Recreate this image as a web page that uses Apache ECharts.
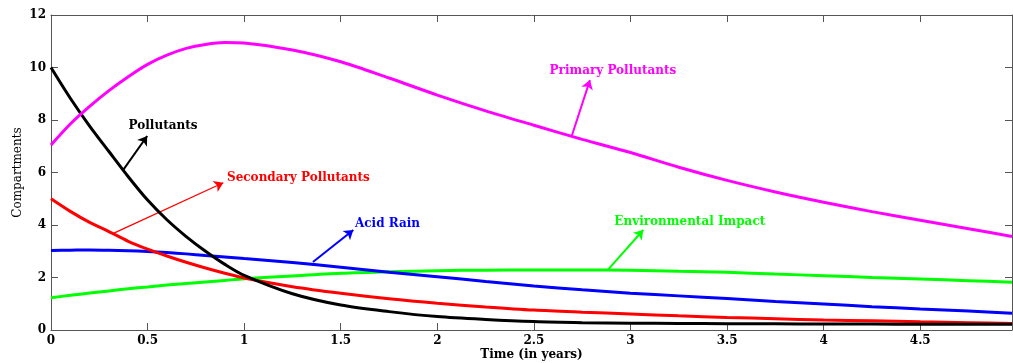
<!DOCTYPE html>
<html>
<head>
<meta charset="utf-8">
<script src="https://cdn.jsdelivr.net/npm/echarts@6/dist/echarts.min.js"></script>
<style>html,body{margin:0;padding:0;background:#fff}#c{width:1013px;height:363px}</style>
</head>
<body>
<div id="c"></div>
<script>
// Time points (years)
const time = [0,0.1,0.2,0.3,0.4,0.5,0.6,0.7,0.8,0.9,1,1.25,1.5,1.75,2,2.25,2.5,2.75,3,3.25,3.5,3.75,4,4.25,4.5,4.75,4.975];
// Series values
const primary    = [7.05,7.85,8.52,9.12,9.65,10.12,10.47,10.73,10.88,10.95,10.93,10.67,10.22,9.6,8.95,8.35,7.8,7.26,6.76,6.2,5.7,5.26,4.87,4.51,4.18,3.86,3.56];
const pollutants = [10,8.83,7.77,6.8,5.84,4.95,4.2,3.56,3.0,2.5,2.08,1.38,0.95,0.7,0.51,0.4,0.32,0.28,0.26,0.25,0.24,0.235,0.23,0.225,0.22,0.22,0.22];
const secondary  = [5.0,4.52,4.1,3.75,3.38,3.08,2.82,2.58,2.36,2.16,1.98,1.65,1.4,1.19,1.02,0.88,0.76,0.68,0.61,0.54,0.48,0.43,0.38,0.35,0.31,0.28,0.25];
const acidRain   = [3.03,3.04,3.05,3.04,3.02,2.99,2.95,2.9,2.84,2.78,2.72,2.57,2.39,2.2,2.03,1.85,1.68,1.53,1.4,1.3,1.2,1.09,0.99,0.89,0.8,0.72,0.64];
const envImpact  = [1.23,1.32,1.41,1.49,1.57,1.64,1.71,1.77,1.83,1.89,1.95,2.06,2.16,2.22,2.26,2.28,2.29,2.29,2.28,2.24,2.2,2.13,2.07,2.0,1.94,1.88,1.82];
const seriesNames = ['Primary Pollutants','Pollutants','Secondary Pollutants','Acid Rain','Environmental Impact'];
// Annotation labels (data coords) and arrows [start, tip]
const labelPos = [[2.909,9.87],[0.58,7.78],[1.281,5.79],[1.742,4.06],[3.307,4.13]];
const arrowFrom = [[2.695,7.37],[0.374,6.1],[0.323,3.68],[1.356,2.59],[2.885,2.31]];
const arrowTo   = [[2.79,9.52],[0.498,7.39],[0.892,5.61],[1.565,3.81],[3.066,3.81]];
const xTicks = [0,0.5,1,1.5,2,2.5,3,3.5,4,4.5];
const yTicks = [0,2,4,6,8,10,12];

const colors = ['#ff00ff','#000000','#ff0000','#0000ff','#00ff00'];
const arrowWidths = [2,2,1.3,2,2];
const allData = [primary,pollutants,secondary,acidRain,envImpact];
const font = 'DejaVu Serif';

const series = allData.map((vals,i)=>({
  name: seriesNames[i],
  type: 'line',
  smooth: 0.3,
  symbol: 'none',
  data: time.map((t,k)=>[t,vals[k]]),
  lineStyle: {color: colors[i], width: 3},
  itemStyle: {color: colors[i]},
  z: 2 + (4 - i),
  markLine: {
    silent: true,
    symbol: ['none','arrow'],
    symbolSize: 9,
    animation: false,
    label: {show: false},
    lineStyle: {color: colors[i], width: arrowWidths[i], type: 'solid'},
    data: [[{coord: arrowFrom[i]}, {coord: arrowTo[i]}]]
  },
  markPoint: {
    silent: true,
    animation: false,
    symbol: 'rect',
    symbolSize: 1,
    itemStyle: {color: 'rgba(0,0,0,0)'},
    label: {show: true, position: 'inside', formatter: seriesNames[i], color: colors[i],
      fontFamily: font, fontWeight: 'bold', fontSize: 12},
    data: [{coord: labelPos[i]}]
  }
}));

const axisLine = {show: true, onZero: false, lineStyle: {color: '#555', width: 1}};
const tick = {show: true, inside: true, length: 7, lineStyle: {color: '#555'}};
const chart = echarts.init(document.getElementById('c'), null, {renderer: 'canvas'});
chart.setOption({
  animation: false,
  backgroundColor: '#fff',
  grid: {left: 51, right: 1, top: 15, bottom: 33, containLabel: false, outerBoundsMode: 'none'},
  xAxis: [{
    type: 'value', min: 0, max: 4.975, interval: 0.5, position: 'bottom',
    name: 'Time (in years)', nameLocation: 'middle', nameGap: 19, nameMoveOverlap: false,
    nameTextStyle: {fontFamily: font, fontWeight: 'bold', fontSize: 12, color: '#000'},
    axisLine: axisLine, axisTick: tick,
    axisLabel: {fontFamily: font, fontWeight: 'bold', fontSize: 12, color: '#000', margin: 5,
      showMaxLabel: false, formatter: v => xTicks.includes(v) ? String(v) : ''},
    splitLine: {show: false}
  },{
    type: 'value', min: 0, max: 4.975, interval: 0.5, position: 'top',
    axisLine: axisLine, axisTick: tick,
    axisLabel: {show: false}, splitLine: {show: false}
  }],
  yAxis: [{
    type: 'value', min: 0, max: 12, interval: 2, position: 'left',
    name: 'Compartments', nameLocation: 'middle', nameGap: 27, nameMoveOverlap: false,
    nameTextStyle: {fontFamily: font, fontSize: 12, color: '#000'},
    axisLine: axisLine, axisTick: tick,
    axisLabel: {fontFamily: font, fontWeight: 'bold', fontSize: 12, color: '#000', margin: 5,
      formatter: v => yTicks.includes(v) ? String(v) : ''},
    splitLine: {show: false}
  },{
    type: 'value', min: 0, max: 12, interval: 2, position: 'right',
    axisLine: axisLine, axisTick: tick,
    axisLabel: {show: false}, splitLine: {show: false}
  }],
  series: series
});
</script>
</body>
</html>
